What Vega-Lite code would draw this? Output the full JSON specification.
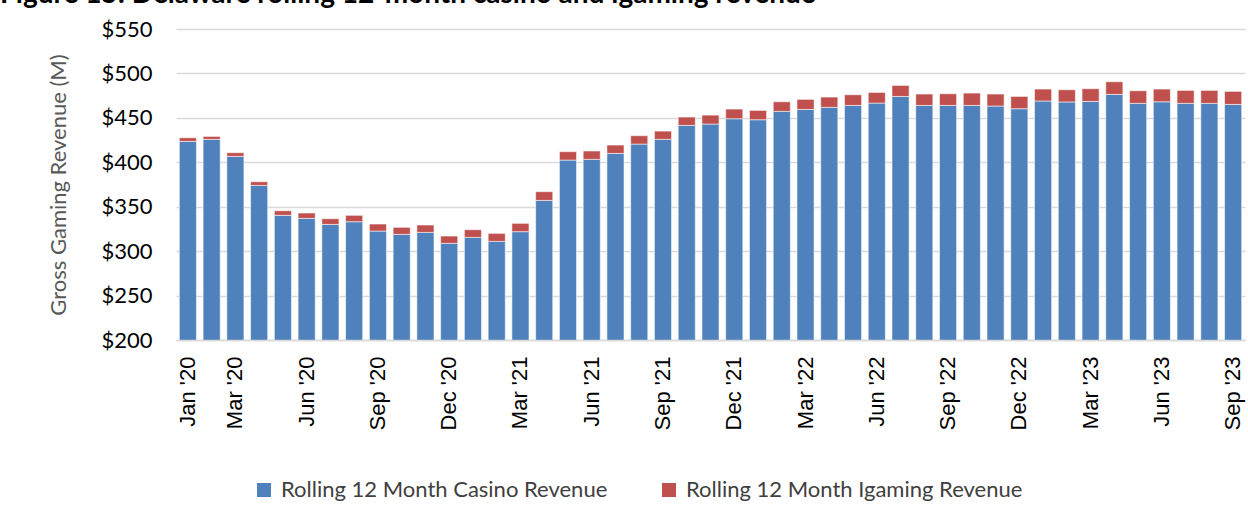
{
  "$schema": "https://vega.github.io/schema/vega-lite/v6.json",
  "autosize": {"type": "none"},
  "width": 1069,
  "height": 311,
  "padding": {"left": 176, "top": 29, "right": 3, "bottom": 177},
  "background": "#ffffff",
  "title": {
    "text": "Figure 15: Delaware rolling 12-month casino and igaming revenue",
    "anchor": "start",
    "frame": "group",
    "dx": -176,
    "dy": -9,
    "font": "Lato",
    "fontSize": 28,
    "fontWeight": "bold",
    "color": "#000000",
    "offset": 0
  },
  "config": {
    "font": "Lato",
    "view": {"stroke": null}
  },
  "data": {
    "values": [
      {"month": "Jan '20", "series": "Rolling 12 Month Casino Revenue", "value": 423.5},
      {"month": "Jan '20", "series": "Rolling 12 Month Igaming Revenue", "value": 4.1},
      {"month": "Feb '20", "series": "Rolling 12 Month Casino Revenue", "value": 425.8},
      {"month": "Feb '20", "series": "Rolling 12 Month Igaming Revenue", "value": 3.3},
      {"month": "Mar '20", "series": "Rolling 12 Month Casino Revenue", "value": 406.6},
      {"month": "Mar '20", "series": "Rolling 12 Month Igaming Revenue", "value": 4.2},
      {"month": "Apr '20", "series": "Rolling 12 Month Casino Revenue", "value": 374.0},
      {"month": "Apr '20", "series": "Rolling 12 Month Igaming Revenue", "value": 4.1},
      {"month": "May '20", "series": "Rolling 12 Month Casino Revenue", "value": 340.3},
      {"month": "May '20", "series": "Rolling 12 Month Igaming Revenue", "value": 5.2},
      {"month": "Jun '20", "series": "Rolling 12 Month Casino Revenue", "value": 336.9},
      {"month": "Jun '20", "series": "Rolling 12 Month Igaming Revenue", "value": 6.0},
      {"month": "Jul '20", "series": "Rolling 12 Month Casino Revenue", "value": 330.1},
      {"month": "Jul '20", "series": "Rolling 12 Month Igaming Revenue", "value": 6.4},
      {"month": "Aug '20", "series": "Rolling 12 Month Casino Revenue", "value": 333.1},
      {"month": "Aug '20", "series": "Rolling 12 Month Igaming Revenue", "value": 7.2},
      {"month": "Sep '20", "series": "Rolling 12 Month Casino Revenue", "value": 322.6},
      {"month": "Sep '20", "series": "Rolling 12 Month Igaming Revenue", "value": 7.9},
      {"month": "Oct '20", "series": "Rolling 12 Month Casino Revenue", "value": 318.9},
      {"month": "Oct '20", "series": "Rolling 12 Month Igaming Revenue", "value": 7.9},
      {"month": "Nov '20", "series": "Rolling 12 Month Casino Revenue", "value": 321.1},
      {"month": "Nov '20", "series": "Rolling 12 Month Igaming Revenue", "value": 8.3},
      {"month": "Dec '20", "series": "Rolling 12 Month Casino Revenue", "value": 308.8},
      {"month": "Dec '20", "series": "Rolling 12 Month Igaming Revenue", "value": 8.2},
      {"month": "Jan '21", "series": "Rolling 12 Month Casino Revenue", "value": 315.5},
      {"month": "Jan '21", "series": "Rolling 12 Month Igaming Revenue", "value": 8.6},
      {"month": "Feb '21", "series": "Rolling 12 Month Casino Revenue", "value": 311.0},
      {"month": "Feb '21", "series": "Rolling 12 Month Igaming Revenue", "value": 9.0},
      {"month": "Mar '21", "series": "Rolling 12 Month Casino Revenue", "value": 321.9},
      {"month": "Mar '21", "series": "Rolling 12 Month Igaming Revenue", "value": 9.4},
      {"month": "Apr '21", "series": "Rolling 12 Month Casino Revenue", "value": 357.1},
      {"month": "Apr '21", "series": "Rolling 12 Month Igaming Revenue", "value": 9.8},
      {"month": "May '21", "series": "Rolling 12 Month Casino Revenue", "value": 402.5},
      {"month": "May '21", "series": "Rolling 12 Month Igaming Revenue", "value": 9.4},
      {"month": "Jun '21", "series": "Rolling 12 Month Casino Revenue", "value": 403.3},
      {"month": "Jun '21", "series": "Rolling 12 Month Igaming Revenue", "value": 9.4},
      {"month": "Jul '21", "series": "Rolling 12 Month Casino Revenue", "value": 410.0},
      {"month": "Jul '21", "series": "Rolling 12 Month Igaming Revenue", "value": 9.4},
      {"month": "Aug '21", "series": "Rolling 12 Month Casino Revenue", "value": 420.5},
      {"month": "Aug '21", "series": "Rolling 12 Month Igaming Revenue", "value": 9.4},
      {"month": "Sep '21", "series": "Rolling 12 Month Casino Revenue", "value": 425.8},
      {"month": "Sep '21", "series": "Rolling 12 Month Igaming Revenue", "value": 9.3},
      {"month": "Oct '21", "series": "Rolling 12 Month Casino Revenue", "value": 441.5},
      {"month": "Oct '21", "series": "Rolling 12 Month Igaming Revenue", "value": 9.4},
      {"month": "Nov '21", "series": "Rolling 12 Month Casino Revenue", "value": 443.0},
      {"month": "Nov '21", "series": "Rolling 12 Month Igaming Revenue", "value": 10.1},
      {"month": "Dec '21", "series": "Rolling 12 Month Casino Revenue", "value": 449.0},
      {"month": "Dec '21", "series": "Rolling 12 Month Igaming Revenue", "value": 10.9},
      {"month": "Jan '22", "series": "Rolling 12 Month Casino Revenue", "value": 447.9},
      {"month": "Jan '22", "series": "Rolling 12 Month Igaming Revenue", "value": 10.5},
      {"month": "Feb '22", "series": "Rolling 12 Month Casino Revenue", "value": 457.3},
      {"month": "Feb '22", "series": "Rolling 12 Month Igaming Revenue", "value": 10.8},
      {"month": "Mar '22", "series": "Rolling 12 Month Casino Revenue", "value": 459.5},
      {"month": "Mar '22", "series": "Rolling 12 Month Igaming Revenue", "value": 11.3},
      {"month": "Apr '22", "series": "Rolling 12 Month Casino Revenue", "value": 461.8},
      {"month": "Apr '22", "series": "Rolling 12 Month Igaming Revenue", "value": 11.6},
      {"month": "May '22", "series": "Rolling 12 Month Casino Revenue", "value": 464.0},
      {"month": "May '22", "series": "Rolling 12 Month Igaming Revenue", "value": 12.0},
      {"month": "Jun '22", "series": "Rolling 12 Month Casino Revenue", "value": 466.6},
      {"month": "Jun '22", "series": "Rolling 12 Month Igaming Revenue", "value": 12.0},
      {"month": "Jul '22", "series": "Rolling 12 Month Casino Revenue", "value": 474.1},
      {"month": "Jul '22", "series": "Rolling 12 Month Igaming Revenue", "value": 12.4},
      {"month": "Aug '22", "series": "Rolling 12 Month Casino Revenue", "value": 464.0},
      {"month": "Aug '22", "series": "Rolling 12 Month Igaming Revenue", "value": 12.8},
      {"month": "Sep '22", "series": "Rolling 12 Month Casino Revenue", "value": 464.0},
      {"month": "Sep '22", "series": "Rolling 12 Month Igaming Revenue", "value": 13.1},
      {"month": "Oct '22", "series": "Rolling 12 Month Casino Revenue", "value": 464.0},
      {"month": "Oct '22", "series": "Rolling 12 Month Igaming Revenue", "value": 13.9},
      {"month": "Nov '22", "series": "Rolling 12 Month Casino Revenue", "value": 463.3},
      {"month": "Nov '22", "series": "Rolling 12 Month Igaming Revenue", "value": 13.5},
      {"month": "Dec '22", "series": "Rolling 12 Month Casino Revenue", "value": 460.3},
      {"month": "Dec '22", "series": "Rolling 12 Month Igaming Revenue", "value": 13.8},
      {"month": "Jan '23", "series": "Rolling 12 Month Casino Revenue", "value": 469.0},
      {"month": "Jan '23", "series": "Rolling 12 Month Igaming Revenue", "value": 13.4},
      {"month": "Feb '23", "series": "Rolling 12 Month Casino Revenue", "value": 467.9},
      {"month": "Feb '23", "series": "Rolling 12 Month Igaming Revenue", "value": 13.7},
      {"month": "Mar '23", "series": "Rolling 12 Month Casino Revenue", "value": 468.5},
      {"month": "Mar '23", "series": "Rolling 12 Month Igaming Revenue", "value": 14.3},
      {"month": "Apr '23", "series": "Rolling 12 Month Casino Revenue", "value": 476.4},
      {"month": "Apr '23", "series": "Rolling 12 Month Igaming Revenue", "value": 14.2},
      {"month": "May '23", "series": "Rolling 12 Month Casino Revenue", "value": 466.3},
      {"month": "May '23", "series": "Rolling 12 Month Igaming Revenue", "value": 14.2},
      {"month": "Jun '23", "series": "Rolling 12 Month Casino Revenue", "value": 468.1},
      {"month": "Jun '23", "series": "Rolling 12 Month Igaming Revenue", "value": 14.3},
      {"month": "Jul '23", "series": "Rolling 12 Month Casino Revenue", "value": 466.3},
      {"month": "Jul '23", "series": "Rolling 12 Month Igaming Revenue", "value": 14.6},
      {"month": "Aug '23", "series": "Rolling 12 Month Casino Revenue", "value": 466.3},
      {"month": "Aug '23", "series": "Rolling 12 Month Igaming Revenue", "value": 14.6},
      {"month": "Sep '23", "series": "Rolling 12 Month Casino Revenue", "value": 465.1},
      {"month": "Sep '23", "series": "Rolling 12 Month Igaming Revenue", "value": 14.7}
    ]
  },
  "mark": {"type": "bar", "clip": true, "stroke": "#ffffff", "strokeOpacity": 0.55, "strokeWidth": 1},
  "encoding": {
    "x": {
      "field": "month",
      "type": "ordinal",
      "sort": null,
      "scale": {"paddingInner": 0.28, "paddingOuter": 0.14},
      "axis": {
        "title": null,
        "values": ["Jan '20", "Mar '20", "Jun '20", "Sep '20", "Dec '20", "Mar '21", "Jun '21", "Sep '21", "Dec '21", "Mar '22", "Jun '22", "Sep '22", "Dec '22", "Mar '23", "Jun '23", "Sep '23"],
        "labelAngle": -90,
        "labelAlign": "right",
        "labelBaseline": "middle",
        "labelPadding": 16,
        "labelFont": "Liberation Sans",
        "labelFontSize": 22,
        "labelColor": "#000000",
        "ticks": false,
        "domain": true,
        "domainColor": "#d9d9d9",
        "domainWidth": 1.5,
        "grid": false,
        "zindex": 1
      }
    },
    "y": {
      "field": "value",
      "type": "quantitative",
      "stack": "zero",
      "scale": {"domain": [200, 550], "zero": false, "nice": false},
      "axis": {
        "title": "Gross Gaming Revenue (M)",
        "titleFont": "Lato",
        "titleFontSize": 22,
        "titleFontWeight": "normal",
        "titleColor": "#595959",
        "titlePadding": 30,
        "values": [200, 250, 300, 350, 400, 450, 500, 550],
        "labelExpr": "'$' + datum.value",
        "labelFont": "Lato",
        "labelFontSize": 22,
        "labelColor": "#000000",
        "labelPadding": 24,
        "ticks": false,
        "domain": false,
        "grid": true,
        "gridColor": "#d9d9d9",
        "gridWidth": 1.5
      }
    },
    "color": {
      "field": "series",
      "type": "nominal",
      "scale": {
        "domain": ["Rolling 12 Month Casino Revenue", "Rolling 12 Month Igaming Revenue"],
        "range": ["#4f81bd", "#c0504d"]
      },
      "legend": {
        "title": null,
        "orient": "none",
        "direction": "horizontal",
        "legendX": 77,
        "legendY": 450,
        "symbolType": "square",
        "symbolSize": 196,
        "symbolStrokeWidth": 0,
        "labelFont": "Lato",
        "labelFontSize": 22,
        "labelColor": "#404040",
        "labelLimit": 500,
        "labelOffset": 6,
        "columnPadding": 50
      }
    },
    "order": {"field": "series", "type": "nominal", "sort": "ascending"}
  }
}
